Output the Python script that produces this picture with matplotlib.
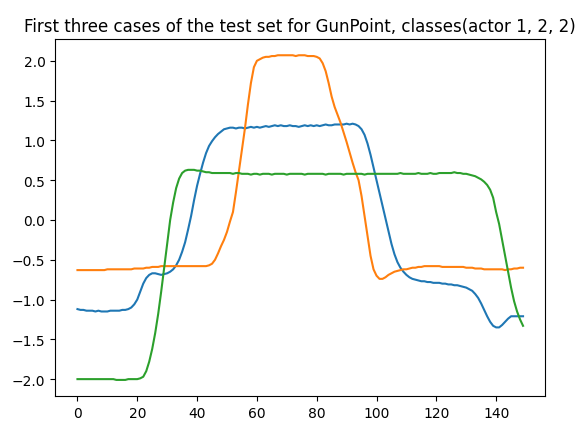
import numpy as np
import matplotlib
matplotlib.use("Agg")
import matplotlib.pyplot as plt

case1 = [-1.12, -1.13, -1.13, -1.14, -1.14, -1.14, -1.15, -1.14, -1.15, -1.15,
         -1.15, -1.14, -1.14, -1.14, -1.14, -1.13, -1.13, -1.12, -1.10, -1.06,
         -1.00, -0.90, -0.80, -0.73, -0.69, -0.67, -0.67, -0.68, -0.69, -0.68,
         -0.67, -0.65, -0.62, -0.57, -0.50, -0.40, -0.28, -0.12, 0.05, 0.25,
         0.43, 0.58, 0.72, 0.84, 0.93, 0.99, 1.04, 1.08, 1.11, 1.14,
         1.15, 1.16, 1.16, 1.15, 1.16, 1.16, 1.15, 1.16, 1.17, 1.16,
         1.17, 1.16, 1.17, 1.18, 1.17, 1.18, 1.19, 1.18, 1.19, 1.18,
         1.18, 1.19, 1.18, 1.18, 1.17, 1.18, 1.19, 1.18, 1.19, 1.18,
         1.19, 1.18, 1.19, 1.20, 1.19, 1.19, 1.20, 1.20, 1.20, 1.20,
         1.21, 1.20, 1.21, 1.20, 1.18, 1.14, 1.07, 0.96, 0.82, 0.66,
         0.50, 0.34, 0.18, 0.02, -0.14, -0.30, -0.43, -0.53, -0.60, -0.65,
         -0.69, -0.72, -0.74, -0.75, -0.76, -0.77, -0.77, -0.78, -0.78, -0.79,
         -0.79, -0.79, -0.80, -0.80, -0.81, -0.81, -0.82, -0.82, -0.83, -0.84,
         -0.85, -0.87, -0.89, -0.93, -0.98, -1.05, -1.13, -1.21, -1.28, -1.33,
         -1.35, -1.35, -1.32, -1.28, -1.24, -1.21, -1.21, -1.21, -1.21, -1.21]

case2 = [-0.63, -0.63, -0.63, -0.63, -0.63, -0.63, -0.63, -0.63, -0.63, -0.63,
         -0.62, -0.62, -0.62, -0.62, -0.62, -0.62, -0.62, -0.62, -0.62, -0.61,
         -0.61, -0.61, -0.61, -0.60, -0.60, -0.59, -0.59, -0.59, -0.58, -0.58,
         -0.58, -0.58, -0.58, -0.58, -0.58, -0.58, -0.58, -0.58, -0.58, -0.58,
         -0.58, -0.58, -0.58, -0.58, -0.57, -0.55, -0.50, -0.42, -0.33, -0.25,
         -0.15, -0.02, 0.10, 0.35, 0.62, 0.88, 1.15, 1.45, 1.72, 1.92,
         2.00, 2.02, 2.04, 2.05, 2.05, 2.06, 2.06, 2.07, 2.07, 2.07,
         2.07, 2.07, 2.07, 2.06, 2.07, 2.07, 2.07, 2.06, 2.06, 2.06,
         2.05, 2.03, 1.97, 1.87, 1.72, 1.55, 1.42, 1.32, 1.22, 1.10,
         0.98, 0.85, 0.72, 0.60, 0.50, 0.30, 0.05, -0.20, -0.45, -0.62,
         -0.70, -0.74, -0.74, -0.72, -0.69, -0.67, -0.65, -0.64, -0.63, -0.62,
         -0.62, -0.61, -0.60, -0.60, -0.59, -0.59, -0.58, -0.58, -0.58, -0.58,
         -0.58, -0.58, -0.59, -0.59, -0.59, -0.59, -0.59, -0.59, -0.59, -0.59,
         -0.60, -0.60, -0.60, -0.61, -0.61, -0.61, -0.62, -0.62, -0.62, -0.62,
         -0.62, -0.62, -0.62, -0.63, -0.62, -0.62, -0.61, -0.61, -0.60, -0.60]

case3 = [-2.00, -2.00, -2.00, -2.00, -2.00, -2.00, -2.00, -2.00, -2.00, -2.00,
         -2.00, -2.00, -2.00, -2.01, -2.01, -2.01, -2.01, -2.00, -2.00, -2.00,
         -2.00, -1.99, -1.97, -1.90, -1.78, -1.62, -1.42, -1.18, -0.90, -0.60,
         -0.30, 0.00, 0.22, 0.40, 0.52, 0.59, 0.62, 0.63, 0.63, 0.63,
         0.62, 0.62, 0.61, 0.60, 0.60, 0.59, 0.59, 0.59, 0.59, 0.59,
         0.59, 0.59, 0.58, 0.59, 0.59, 0.58, 0.58, 0.58, 0.57, 0.58,
         0.58, 0.57, 0.58, 0.58, 0.58, 0.57, 0.58, 0.58, 0.58, 0.58,
         0.57, 0.58, 0.58, 0.58, 0.58, 0.58, 0.57, 0.58, 0.58, 0.58,
         0.58, 0.58, 0.58, 0.57, 0.58, 0.58, 0.58, 0.58, 0.58, 0.57,
         0.58, 0.58, 0.58, 0.58, 0.58, 0.58, 0.57, 0.58, 0.58, 0.58,
         0.58, 0.58, 0.58, 0.58, 0.58, 0.58, 0.58, 0.58, 0.59, 0.58,
         0.58, 0.58, 0.58, 0.58, 0.59, 0.58, 0.58, 0.58, 0.59, 0.58,
         0.58, 0.59, 0.59, 0.59, 0.59, 0.59, 0.60, 0.59, 0.59, 0.58,
         0.58, 0.57, 0.56, 0.55, 0.53, 0.51, 0.48, 0.44, 0.38, 0.28,
         0.10, -0.05, -0.25, -0.45, -0.65, -0.85, -1.02, -1.15, -1.25, -1.33]

title = "First three cases of the test set for GunPoint, classes(actor 1, 2, 2)"

fig = plt.figure(figsize=(5.87, 4.35), dpi=100)
ax = fig.add_axes([0.094, 0.087, 0.835, 0.821])
for series in (case1, case2, case3):
    ax.plot(np.arange(len(series)), series)
ax.set_title(title)
fig.savefig("out.png")
